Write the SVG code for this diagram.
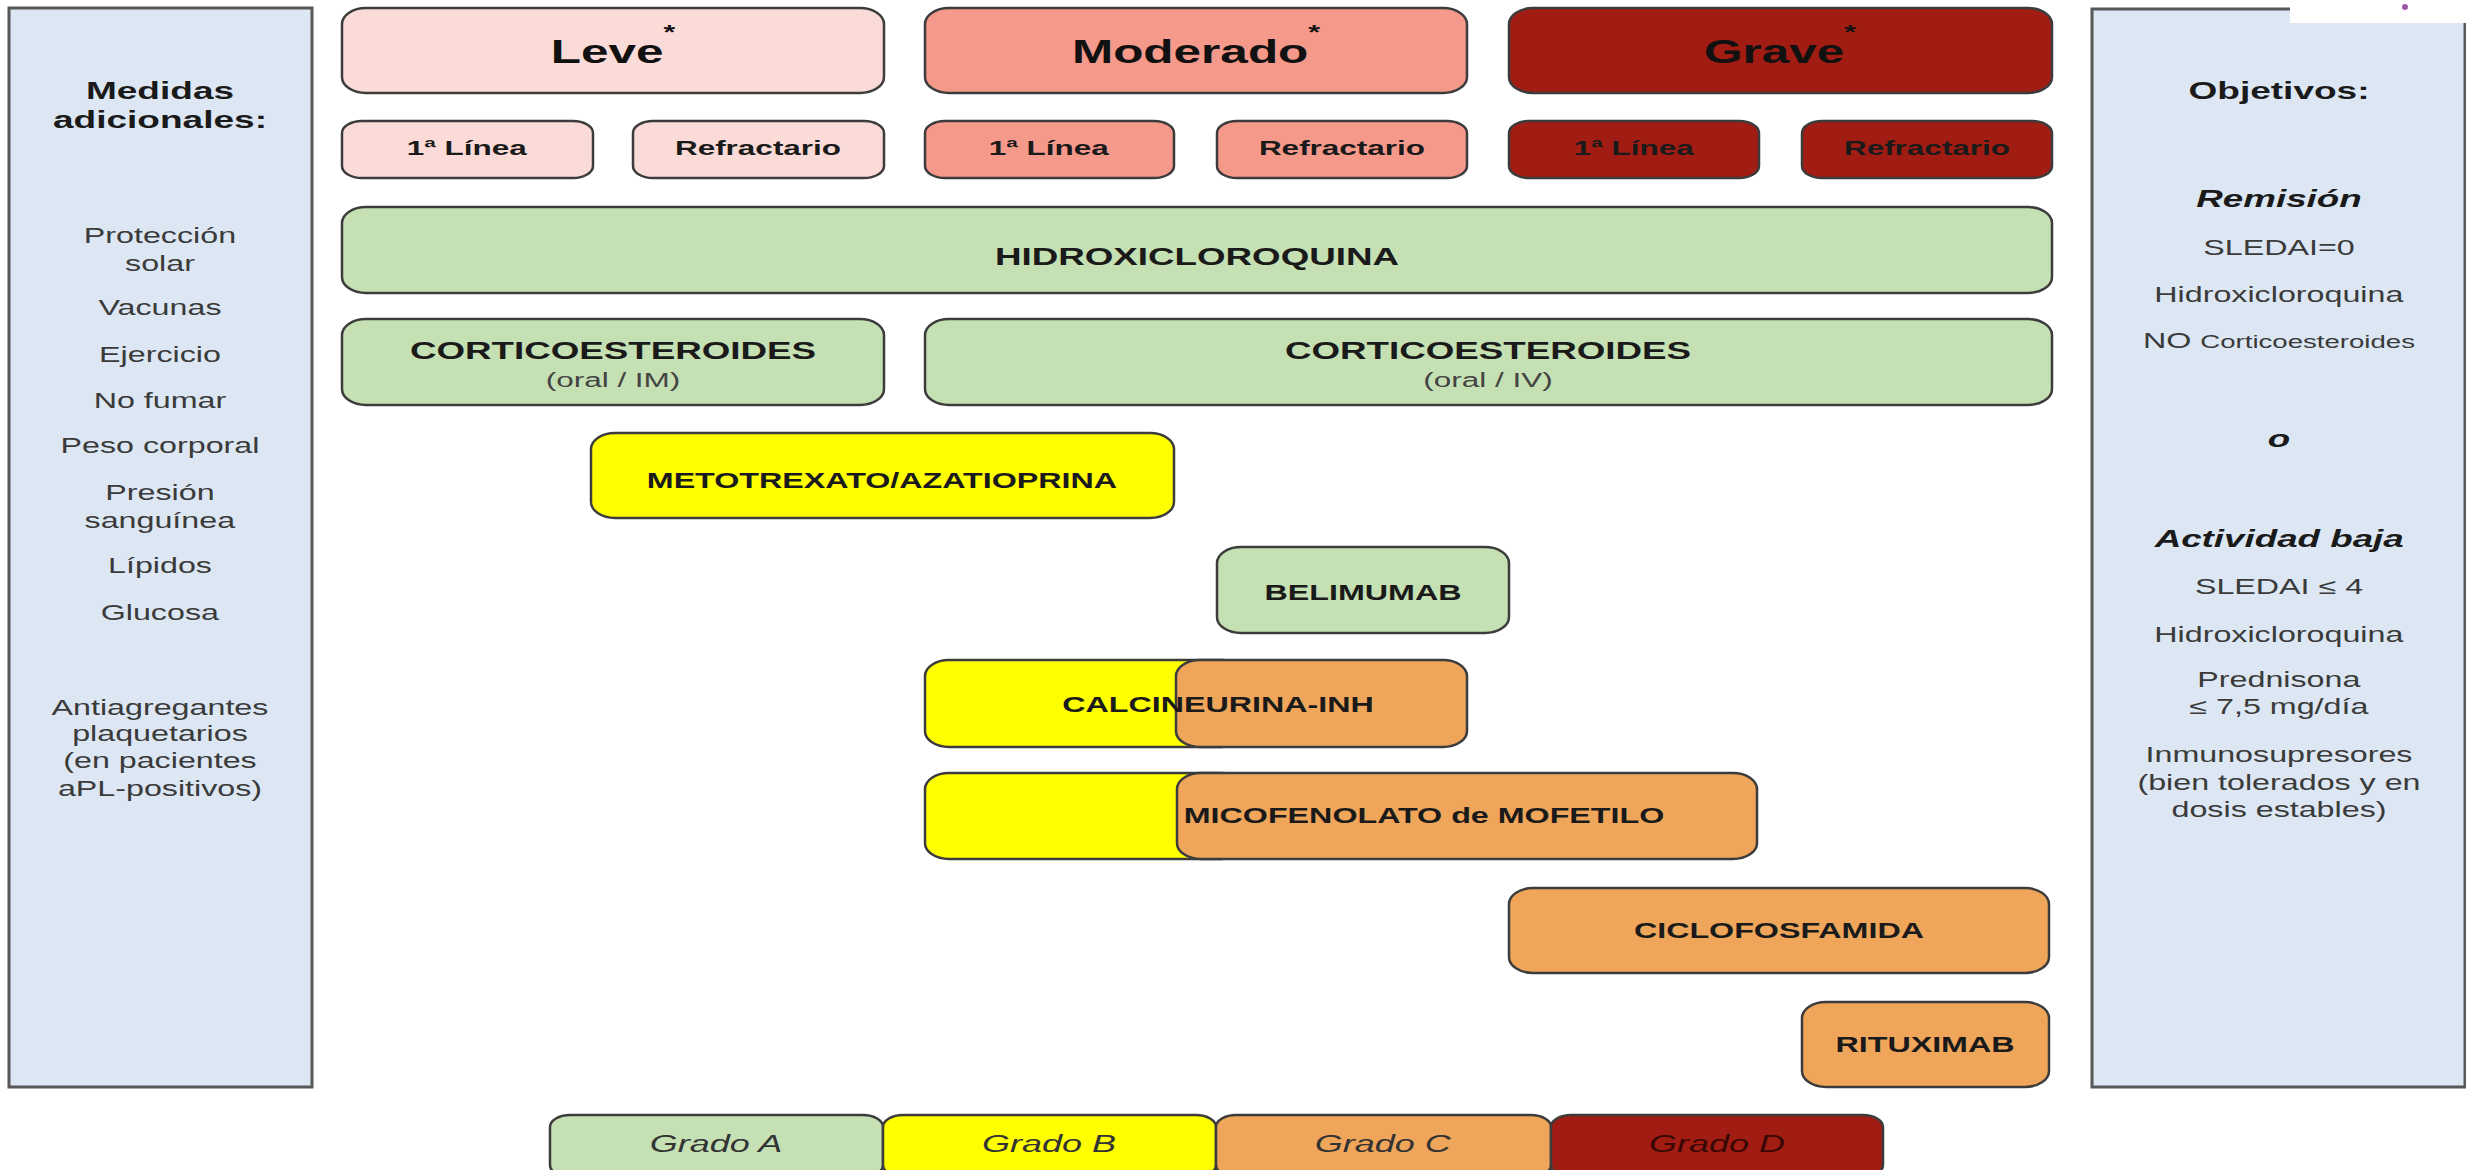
<svg xmlns="http://www.w3.org/2000/svg" width="2466" height="1170" viewBox="0 0 2466 1170">
<style>
text{font-family:"Liberation Sans",Arial,sans-serif;text-anchor:middle;transform-box:fill-box;transform-origin:center;transform:scaleX(1.5)}
.box{stroke:#3c3c3c;stroke-width:2.5}
.panel{fill:#dce7f3;stroke:#585858;stroke-width:3}
.pink{fill:#fbdbd7}.salmon{fill:#f5998b}.red{fill:#a11c12}.green{fill:#c5e0b3}.yellow{fill:#ffff00}.orange{fill:#f0a65a}
.h1{font-size:33px;font-weight:bold;fill:#111}
.sub{font-size:21px;font-weight:bold;fill:#1a1a1a}
.drug{font-size:21.5px;font-weight:bold;fill:#1a1a1a}
.big{font-size:24.5px;font-weight:bold;fill:#1a1a1a}
.par{font-size:21px;fill:#444}
.hd{font-size:24.7px;font-weight:bold;fill:#1a1a1a}
.it{font-size:21.5px;fill:#3a3a3a}
.bi{font-size:24.5px;font-weight:bold;font-style:italic;fill:#1a1a1a}
.lg{font-size:24px;font-style:italic;fill:#333}
.ast{font-size:20px}
</style>
<rect width="2466" height="1170" fill="#ffffff"/>
<g id="panel-medidas">
<rect class="panel" x="9" y="8" width="303" height="1079"/>
<text class="hd" x="160" y="99">Medidas</text>
<text class="hd" x="160" y="128">adicionales:</text>
<text class="it" x="160" y="243">Protección</text>
<text class="it" x="160" y="271">solar</text>
<text class="it" x="160" y="315">Vacunas</text>
<text class="it" x="160" y="362">Ejercicio</text>
<text class="it" x="160" y="408">No fumar</text>
<text class="it" x="160" y="453">Peso corporal</text>
<text class="it" x="160" y="500">Presión</text>
<text class="it" x="160" y="528">sanguínea</text>
<text class="it" x="160" y="573">Lípidos</text>
<text class="it" x="160" y="620">Glucosa</text>
<text class="it" x="160" y="715">Antiagregantes</text>
<text class="it" x="160" y="741">plaquetarios</text>
<text class="it" x="160" y="768">(en pacientes</text>
<text class="it" x="160" y="796">aPL-positivos)</text>
</g>
<g id="panel-objetivos">
<rect class="panel" x="2092" y="9" width="373" height="1078"/>
<text class="hd" x="2279" y="99">Objetivos:</text>
<text class="bi" x="2279" y="207">Remisión</text>
<text class="it" x="2279" y="255">SLEDAI=0</text>
<text class="it" x="2279" y="302">Hidroxicloroquina</text>
<text class="it" x="2279" y="348">NO <tspan font-size="18.4px">Corticoesteroides</tspan></text>
<text class="bi" x="2279" y="447">o</text>
<text class="bi" x="2279" y="547">Actividad baja</text>
<text class="it" x="2279" y="594">SLEDAI ≤ 4</text>
<text class="it" x="2279" y="642">Hidroxicloroquina</text>
<text class="it" x="2279" y="687">Prednisona</text>
<text class="it" x="2279" y="714">≤ 7,5 mg/día</text>
<text class="it" x="2279" y="762">Inmunosupresores</text>
<text class="it" x="2279" y="790">(bien tolerados y en</text>
<text class="it" x="2279" y="817">dosis estables)</text>
</g>
<g id="corner-mark">
<rect x="2290" y="0" width="176" height="23" fill="#ffffff"/>
<circle cx="2405" cy="7" r="3" fill="#9b5ba5"/>
</g>
<g id="leve">
<rect class="box pink" x="342" y="8" width="542" height="85" rx="24" ry="16"/>
<text class="h1" x="613" y="63">Leve<tspan class="ast" dy="-24">*</tspan></text>
</g>
<g id="moderado">
<rect class="box salmon" x="925" y="8" width="542" height="85" rx="24" ry="16"/>
<text class="h1" x="1196" y="63">Moderado<tspan class="ast" dy="-24">*</tspan></text>
</g>
<g id="grave">
<rect class="box red" x="1509" y="8" width="543" height="85" rx="24" ry="16"/>
<text class="h1" x="1780" y="63">Grave<tspan class="ast" dy="-24">*</tspan></text>
</g>
<g id="leve-1linea">
<rect class="box pink" x="342" y="121" width="251" height="57" rx="20" ry="12"/>
<text class="sub" x="467" y="155">1ª Línea</text>
</g>
<g id="leve-refractario">
<rect class="box pink" x="633" y="121" width="251" height="57" rx="20" ry="12"/>
<text class="sub" x="758" y="155">Refractario</text>
</g>
<g id="moderado-1linea">
<rect class="box salmon" x="925" y="121" width="249" height="57" rx="20" ry="12"/>
<text class="sub" x="1049" y="155">1ª Línea</text>
</g>
<g id="moderado-refractario">
<rect class="box salmon" x="1217" y="121" width="250" height="57" rx="20" ry="12"/>
<text class="sub" x="1342" y="155">Refractario</text>
</g>
<g id="grave-1linea">
<rect class="box red" x="1509" y="121" width="250" height="57" rx="20" ry="12"/>
<text class="sub" x="1634" y="155">1ª Línea</text>
</g>
<g id="grave-refractario">
<rect class="box red" x="1802" y="121" width="250" height="57" rx="20" ry="12"/>
<text class="sub" x="1927" y="155">Refractario</text>
</g>
<g id="hidroxicloroquina">
<rect class="box green" x="342" y="207" width="1710" height="86" rx="24" ry="16"/>
<text class="big" x="1197" y="265">HIDROXICLOROQUINA</text>
</g>
<g id="corticoides-leve">
<rect class="box green" x="342" y="319" width="542" height="86" rx="24" ry="16"/>
<text class="big" x="613" y="359">CORTICOESTEROIDES</text>
<text class="par" x="613" y="387">(oral / IM)</text>
</g>
<g id="corticoides-mod-grave">
<rect class="box green" x="925" y="319" width="1127" height="86" rx="24" ry="16"/>
<text class="big" x="1488" y="359">CORTICOESTEROIDES</text>
<text class="par" x="1488" y="387">(oral / IV)</text>
</g>
<g id="metotrexato">
<rect class="box yellow" x="591" y="433" width="583" height="85" rx="24" ry="16"/>
<text class="drug" x="882" y="488">METOTREXATO/AZATIOPRINA</text>
</g>
<g id="belimumab">
<rect class="box green" x="1217" y="547" width="292" height="86" rx="24" ry="16"/>
<text class="drug" x="1363" y="600">BELIMUMAB</text>
</g>
<g id="calcineurina">
<rect class="box yellow" x="925" y="660" width="320" height="87" rx="24" ry="16"/>
<rect class="box orange" x="1176" y="660" width="291" height="87" rx="24" ry="16"/>
<text class="drug" x="1218" y="712">CALCINEURINA-INH</text>
</g>
<g id="micofenolato">
<rect class="box yellow" x="925" y="773" width="320" height="86" rx="24" ry="16"/>
<rect class="box orange" x="1177" y="773" width="580" height="86" rx="24" ry="16"/>
<text class="drug" x="1424" y="823">MICOFENOLATO de MOFETILO</text>
</g>
<g id="ciclofosfamida">
<rect class="box orange" x="1509" y="888" width="540" height="85" rx="24" ry="16"/>
<text class="drug" x="1779" y="938">CICLOFOSFAMIDA</text>
</g>
<g id="rituximab">
<rect class="box orange" x="1802" y="1002" width="247" height="85" rx="24" ry="16"/>
<text class="drug" x="1925" y="1052">RITUXIMAB</text>
</g>
<g id="grado-a">
<rect class="box green" x="550" y="1115" width="333" height="62" rx="20" ry="12"/>
<text class="lg" x="716" y="1152">Grado A</text>
</g>
<g id="grado-b">
<rect class="box yellow" x="883" y="1115" width="333" height="62" rx="20" ry="12"/>
<text class="lg" x="1049" y="1152">Grado B</text>
</g>
<g id="grado-c">
<rect class="box orange" x="1216" y="1115" width="335" height="62" rx="20" ry="12"/>
<text class="lg" x="1383" y="1152">Grado C</text>
</g>
<g id="grado-d">
<rect class="box red" x="1551" y="1115" width="332" height="62" rx="20" ry="12"/>
<text class="lg" x="1717" y="1152" fill="#3a0804" style="fill:#3a0804">Grado D</text>
</g>
<g id="connectors"></g>
</svg>
